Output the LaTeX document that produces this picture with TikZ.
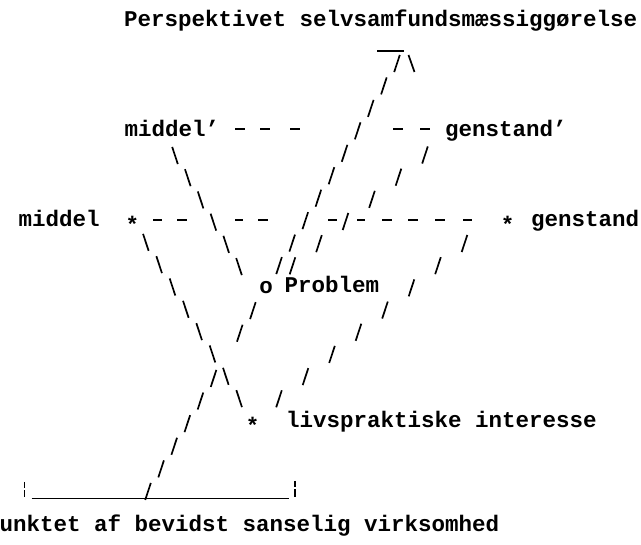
\documentclass[tikz,border=0pt]{standalone}
\usepackage{fontspec}
\newfontfamily\twfont{Liberation Mono}
\usetikzlibrary{decorations.markings}
\tikzset{
  tw/.style={font=\twfont\bfseries\fontsize{22.5pt}{27pt}\selectfont, inner sep=0pt},
  twtext/.style={tw, anchor=base west},
  star/.style={tw, text height=25.2pt, text depth=0pt},
  glyph/.style={line width=1.7pt, line cap=butt},
  dashrow/.style={line width=2pt, line cap=butt},
  fslash/.style n args={3}{decorate, decoration={markings,
      mark=between positions #1 and #2 step #3 with {\pgftransformresetnontranslations
        \draw[glyph] (-2.8pt,-8.5pt) -- (2.8pt,8.5pt);}}},
  bslash/.style n args={3}{decorate, decoration={markings,
      mark=between positions #1 and #2 step #3 with {\pgftransformresetnontranslations
        \draw[glyph] (-2.8pt,8.5pt) -- (2.8pt,-8.5pt);}}},
}
\begin{document}
\begin{tikzpicture}[x=1pt,y=1pt]
  \useasboundingbox (0,0) rectangle (641,-545);

  % texts
  \node[twtext] (title) at (124,-27) {Perspektivet selvsamfundsmæssiggørelse};
  \node[twtext] (mp) at (124.5,-137) {middel’};
  \node[twtext] (gp) at (445,-137) {genstand’};
  \node[twtext] (m) at (18.5,-227) {middel};
  \node[twtext] (g) at (531,-227) {genstand};
  \node[star] (ms) at (132.5,-220) {*};
  \node[star] (gs) at (507.5,-220) {*};
  \node[tw] (prob) at (266,-288) {o};
  \node[twtext] (probl) at (284.5,-293) {Problem};
  \node[star] (liv) at (252.5,-421) {*};
  \node[twtext] (livl) at (286,-428) {livspraktiske interesse};
  \node[twtext] (base) at (-0.5,-532) {unktet af bevidst sanselig virksomhed};

  % named free ends
  \coordinate (Atop) at (397,-63.5);
  \coordinate (Abot) at (148,-491.5);
  \coordinate (B1) at (425,-155);
  \coordinate (C1) at (464.5,-243.5);
  \coordinate (D1) at (175,-155.5);
  \coordinate (D3) at (251.8,-288.8);
  \coordinate (barL) at (31.5,-498.3);
  \coordinate (barR) at (288.5,-498.3);

  % apex
  \draw[line width=1.5pt] (377,-51) -- (404,-51);
  \draw[glyph] (408.5,-55) -- (414.5,-72);

  % slanted typewriter lines
  \path[fslash={0}{0.95}{0.1}] (Atop) -- (prob.center);
  \path[decorate, decoration={markings,
      mark=at position 0.1111 with {\pgftransformresetnontranslations
        \draw[glyph] (-2.8pt,-8.5pt) -- (2.8pt,8.5pt);},
      mark=at position 0.2222 with {\pgftransformresetnontranslations
        \draw[glyph] (-2.8pt,-8.5pt) -- (2.8pt,8.5pt);},
      mark=between positions 0.4444 and 1 step 0.1111 with {\pgftransformresetnontranslations
        \draw[glyph] (-2.8pt,-8.5pt) -- (2.8pt,8.5pt);}}]
    (prob.center) -- (Abot);
  \path[fslash={0}{0.9}{0.16667}] (B1) -- (prob.center);
  \path[fslash={0}{0.93}{0.125}] (C1) -- (liv.center);
  \path[bslash={0}{0.9}{0.16667}] (D1) -- (D3);
  \path[bslash={0.1111}{0.95}{0.1111}] (ms.center) -- (liv.center);

  % dashed rows
  \draw[dashrow, dash pattern=on 0pt off 16pt on 10pt off 15pt on 10pt off 20pt on 10pt off 93pt on 10pt off 17pt on 10pt off 30pt]
    (mp.east) -- (mp.east -| gp.west);
  \draw[dashrow, dash pattern=on 0pt off 13.75pt on 9pt off 15pt on 10pt off 48pt on 8pt off 15pt on 10pt off 60pt on 9pt off 20pt on 8pt off 17pt on 10pt off 16pt on 10pt off 17pt on 10pt off 18pt on 9pt off 40pt]
    (ms.east) -- (gs.west);

  % base bar
  \draw[line width=1.4pt] (barL) -- (barR);
  \draw[line width=1.6pt] (24.5,-482) -- (24.5,-488.5) (24.5,-490.5) -- (24.5,-497.5);
  \draw[line width=1.6pt] (295,-481) -- (295,-487.5) (295,-489.5) -- (295,-497.5);
\end{tikzpicture}
\end{document}
